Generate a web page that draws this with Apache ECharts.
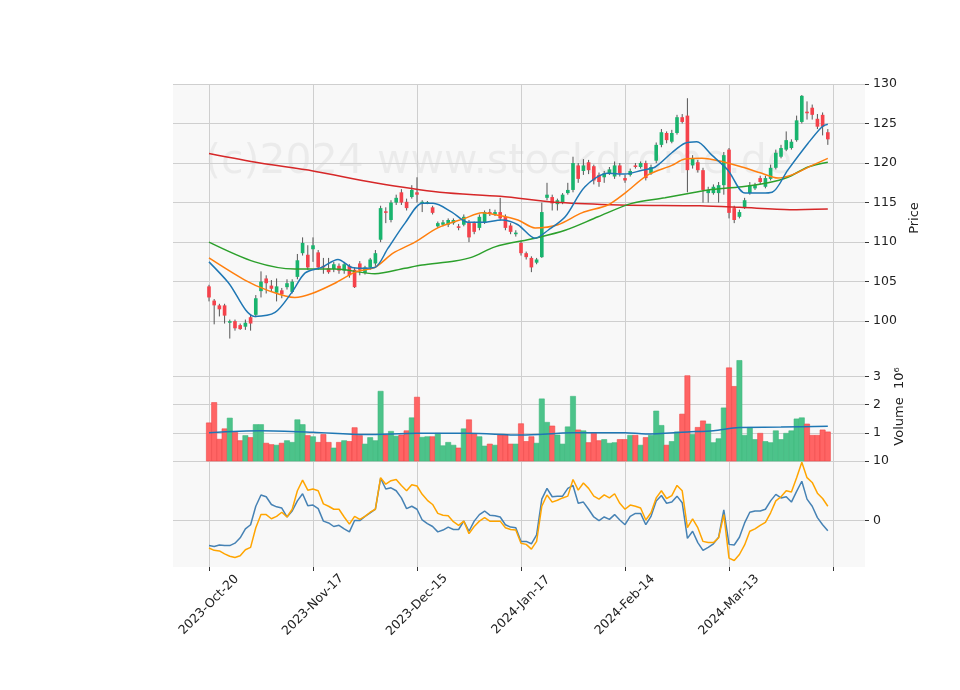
<!DOCTYPE html>
<html><head><meta charset="utf-8">
<script src="https://cdn.jsdelivr.net/npm/echarts@6/dist/echarts.min.js"></script>
<style>html,body{margin:0;padding:0;background:#fff}#c{width:960px;height:690px}</style>
</head><body><div id="c"></div>
<script>
const tickLabels = ['2023-Oct-20','2023-Nov-17','2023-Dec-15','2024-Jan-17','2024-Feb-14','2024-Mar-13',''];
const tickIdx = [0,20,40,60,80,100,120];
// OHLC per trading day: [open, close, high, low]
const ohlc = [
[104.4,103.0,104.6,102.5],[102.6,102.0,102.8,99.6],[102.0,101.5,102.2,100.6],[102.0,100.7,102.2,99.7],[99.8,100.0,100.2,97.8],
[100.0,99.1,100.2,98.8],[99.5,99.0,99.7,98.9],[99.3,99.8,100.2,98.9],[100.5,99.7,100.8,98.8],[100.8,102.9,103.3,100.5],
[103.8,105.0,106.3,103.0],[105.4,104.8,105.8,103.5],[104.5,104.1,105.2,103.7],[103.6,104.4,105.4,102.5],[103.9,103.4,104.2,102.9],
[104.3,104.8,105.3,104.0],[103.7,105.0,105.3,103.5],[105.6,107.7,108.5,105.3],[108.6,109.9,110.6,108.3],[108.4,106.8,109.6,106.5],
[109.1,109.6,110.6,107.5],[108.7,106.8,109.0,106.5],[107.0,106.8,108.0,106.0],[106.7,106.2,108.0,106.0],[106.6,107.2,107.5,106.2],
[107.0,106.4,107.3,106.0],[106.4,107.2,107.5,106.0],[107.0,105.8,107.2,105.5],[106.5,104.3,106.8,104.2],[107.3,106.5,107.6,105.8],
[106.1,106.8,107.0,105.9],[106.8,107.8,108.0,106.5],[107.3,108.6,109.0,107.0],[110.3,114.3,114.6,110.0],[113.9,113.7,114.4,112.4],
[112.8,115.0,115.3,112.5],[115.0,115.6,116.0,114.7],[116.3,115.0,116.7,114.7],[115.1,114.3,115.5,114.0],[115.7,116.6,117.2,115.5],
[116.3,116.0,118.2,115.0],[114.9,115.1,115.3,113.8],[115.0,115.05,115.2,114.8],[114.4,113.7,114.6,113.5],[112.0,112.4,112.6,111.8],
[112.2,112.5,112.8,112.0],[112.2,112.8,113.0,111.9],[112.4,112.8,113.0,112.2],[112.0,111.8,112.3,111.5],[112.2,113.2,113.5,112.0],
[112.5,110.6,112.8,110.0],[112.4,111.3,112.6,111.0],[111.8,113.2,113.5,111.5],[112.5,113.8,114.0,112.3],[113.8,113.6,114.2,113.3],
[113.5,113.8,114.1,113.3],[113.8,113.0,115.6,112.8],[113.2,111.8,113.5,111.5],[112.1,111.3,112.4,111.0],[111.0,111.2,111.5,110.7],
[109.9,108.6,110.2,108.3],[108.6,108.1,108.8,107.8],[108.0,106.8,108.2,106.2],[107.4,107.8,108.0,107.2],[108.1,113.8,115.0,108.0],
[115.6,116.0,117.5,115.3],[115.7,114.9,116.0,114.0],[114.8,115.3,115.5,114.0],[115.0,116.0,116.2,114.8],[116.2,116.6,117.5,116.0],
[116.6,120.0,120.8,116.3],[119.7,118.0,120.0,117.5],[119.0,119.7,120.5,118.5],[120.1,119.1,120.4,118.6],[119.6,117.8,119.8,117.3],
[118.5,117.6,118.8,117.0],[118.2,118.7,119.0,117.5],[118.7,119.2,119.5,118.5],[118.3,119.7,120.2,118.0],[119.7,118.7,120.0,118.3],
[118.1,117.8,118.5,117.5],[118.5,119.0,119.3,118.3],[119.7,119.5,120.0,119.3],[119.5,120.0,120.2,119.3],[120.0,118.1,120.3,117.8],
[118.7,119.5,119.8,118.5],[120.3,122.3,122.6,120.0],[122.3,123.9,124.3,122.0],[123.8,122.9,124.0,122.5],[122.7,123.8,124.2,122.5],
[123.8,125.8,126.1,123.6],[125.8,125.2,126.2,125.0],[126.0,119.1,128.2,116.3],[119.7,120.6,121.0,119.3],[120.1,119.1,120.4,118.8],
[119.1,116.6,119.4,115.0],[116.2,116.6,117.0,115.0],[116.2,117.0,117.3,116.0],[116.2,117.2,117.6,115.0],[117.2,121.0,121.4,116.0],
[121.7,113.7,121.9,113.0],[114.3,112.8,114.6,112.4],[113.2,113.8,114.1,113.0],[114.4,115.3,115.6,114.2],[116.2,117.2,117.6,116.0],
[116.8,117.2,117.5,116.6],[118.1,117.6,118.4,117.3],[117.0,118.1,118.4,116.8],[118.0,119.4,119.8,117.8],[119.4,121.3,121.7,119.2],
[120.8,121.9,122.3,120.6],[121.7,122.9,124.0,121.5],[121.9,122.7,123.0,121.7],[122.9,125.4,126.0,122.7],[125.2,128.5,128.6,125.0],
[126.5,126.3,127.8,125.5],[127.0,126.1,127.4,125.5],[125.6,124.6,126.2,124.3],[126.1,124.6,126.4,123.5],[123.9,123.0,124.3,122.3]
];
const volume = [1.35,2.07,0.77,1.14,1.52,1.01,0.72,0.9,0.83,1.29,1.29,0.63,0.58,0.56,0.63,0.72,0.66,1.46,1.29,0.9,
0.86,0.66,0.94,0.66,0.46,0.66,0.72,0.69,1.18,0.9,0.6,0.83,0.72,2.47,0.92,1.05,0.88,0.92,1.07,1.53,
2.26,0.84,0.86,0.86,0.98,0.54,0.66,0.56,0.46,1.14,1.46,0.95,0.86,0.53,0.6,0.56,0.92,0.92,0.6,0.6,
1.32,0.69,0.86,0.63,2.2,1.37,1.24,0.92,0.6,1.21,2.29,1.1,1.07,0.65,1.0,0.72,0.76,0.63,0.65,0.76,
0.76,0.91,0.91,0.56,0.83,0.91,1.77,1.26,0.56,0.69,1.03,1.66,3.02,0.94,1.19,1.42,1.31,0.65,0.79,1.88,
3.3,2.64,3.56,0.91,1.19,0.76,0.98,0.69,0.65,1.07,0.76,0.98,1.07,1.49,1.53,1.31,0.91,0.91,1.1,1.03];
const volMA = [[0,1.0],[10,1.07],[20,1.02],[30,0.94],[40,0.98],[50,0.98],[60,0.92],[70,1.0],[80,1.0],[84,0.96],[92,1.03],[97,1.07],[102,1.19],[110,1.2],[119,1.23]];
const maBlue = [[0,107.5],[3.7,104.9],[8.8,100.6],[12.7,101.1],[16,103.7],[18.5,106.1],[21.7,106.8],[24.8,107.8],[27.5,106.8],[29.4,106.7],[31.9,106.8],[34.4,109.2],[37.7,112.4],[41,114.9],[43.1,114.9],[46.7,113.8],[49.8,112.5],[52.5,112.5],[56.3,112.8],[59.4,112.2],[62.7,110.5],[65.2,111.5],[68.5,113.2],[72.3,117],[76.7,118.7],[80,118.6],[83.3,119.1],[85.8,119.5],[89,121.3],[91.5,122.5],[93.8,122.7],[96.7,121],[99.8,119.1],[103.1,116.2],[106.3,116.2],[108.3,116.3],[111.3,119.1],[115.2,122.5],[117.9,124.6],[119,124.9]];
const maOrange = [[0,108],[6.9,105.2],[11.3,103.9],[16.5,103],[19.8,103.5],[24.2,104.8],[28.1,106.2],[31.9,106.8],[35.4,108.6],[39.6,110],[44,111.8],[49.2,113],[52.5,113.7],[55.6,113.4],[59.4,112.8],[62.7,111.8],[67.1,112.2],[71.7,113.7],[76.7,114.7],[80,116.2],[84.4,118.5],[89,119.7],[91.5,120.5],[94.8,120.6],[99.2,120.1],[102.5,119.5],[106.3,118.7],[109.4,118.1],[112.1,118.5],[116,119.7],[119,120.6]];
const maGreen = [[0,110],[8.8,107.5],[16.5,106.6],[24.2,106.6],[31.9,106],[37.7,106.7],[41,107.1],[47.3,107.6],[50.6,108.1],[55,109.4],[62.7,110.5],[68.5,111.5],[74.8,113.2],[81.3,114.9],[87.7,115.6],[93.5,116.3],[96,116.6],[102.5,117],[107.5,117.5],[111.3,118.2],[115.2,119.5],[119,120.1]];
const maRed = [[0,121.2],[9.8,120],[20,119],[31.9,117.5],[44.4,116.3],[56,115.8],[67.5,115],[79,114.7],[94.4,114.6],[102.1,114.4],[111.7,114.1],[119,114.2]];
const oscBlue = [-4.2,-4.35,-4.1,-4.2,-4.2,-3.8,-2.9,-1.4,-0.7,2.4,4.3,4.0,2.7,2.3,2.1,0.6,1.6,3.3,4.5,2.5,
2.6,2.0,-0.1,-0.4,-1.0,-0.8,-1.4,-1.9,0,0,0.7,1.3,1.9,7.1,5.3,5.5,5.0,3.8,2.0,2.4,
1.9,0.1,-0.5,-1.0,-1.9,-1.6,-1.1,-1.5,-1.5,-0.1,-1.8,-0.1,1.0,1.6,0.9,0.8,0.6,-0.7,-1.1,-1.2,
-3.5,-3.5,-3.9,-2.4,3.6,5.4,4.0,4.1,4.1,5.4,5.9,2.9,3.1,1.9,0.6,0,0.6,0.2,1.0,0.1,
-0.7,0.7,1.2,1.2,-0.7,0.7,3.3,4.2,2.9,3.1,4.1,3.0,-3.0,-1.8,-3.7,-5.0,-4.5,-3.9,-2.8,1.8,
-4.0,-4.1,-2.8,-0.4,1.4,1.6,1.6,1.9,3.3,4.4,3.8,4.0,3.1,4.9,6.6,3.6,2.4,0.5,-0.7,-1.7];
const oscOrange = [-4.6,-5.0,-5.1,-5.6,-6.0,-6.2,-5.9,-4.9,-4.5,-1.2,1.0,1.0,0.3,0.7,1.4,0.6,1.9,5.0,6.8,5.1,
5.3,5.0,2.8,2.4,1.9,1.9,0.6,-0.6,0.7,0.2,0.7,1.4,1.9,7.2,6.1,6.7,6.9,5.9,5.0,6.0,
5.8,4.4,3.4,2.7,1.2,0.9,0.8,-0.2,-0.8,-0.1,-2.2,-1.0,-0.1,0.5,-0.1,-0.1,-0.1,-1.2,-1.5,-1.6,
-3.8,-4.0,-4.8,-3.5,2.4,4.3,3.1,3.4,3.8,4.1,6.9,5.1,6.3,5.4,4.1,3.6,4.3,3.8,4.5,2.9,
1.9,2.6,2.4,2.1,0.1,1.3,3.8,5.0,3.7,4.2,5.9,5.0,-1.2,0.3,-1.2,-3.5,-3.7,-3.7,-2.9,1.0,
-6.3,-6.7,-5.7,-4.1,-1.8,-1.4,-0.8,-0.3,1.3,3.3,4.0,5.0,4.8,7.2,9.8,7.2,6.4,4.6,3.7,2.4];

const UP='#19b46e', DN='#f5424b', VUP='#4cc38a', VDN='#ff6464';
const candleData = ohlc.map((d,i)=>[i,d[0],d[1],d[3],d[2]]);
const volData = volume.map((v,i)=>[i,v,ohlc[i][1]>=ohlc[i][0]?1:0]);
const FONT='DejaVu Sans';
const xmin=-6.92, xmax=126.15;
function xAxis(gi,showLabels){
  return {type:'value',gridIndex:gi,min:xmin,max:xmax,
    axisLine:{show:false,onZero:false},
    axisTick:{show:showLabels,customValues:tickIdx,length:4,lineStyle:{color:'#333'}},
    axisLabel:{show:showLabels,customValues:tickIdx,rotate:45,align:'center',verticalAlign:'middle',margin:38,
      fontFamily:FONT,fontSize:12.5,color:'#222',
      formatter:v=>tickLabels[tickIdx.indexOf(Math.round(v))]||''},
    splitLine:{show:true,lineStyle:{color:'#cfcfcf',width:1}}};
}
function yAxis(gi,min,max,vals,name,extra){
  return Object.assign({type:'value',gridIndex:gi,position:'right',min:min,max:max,
    axisLine:{show:false,onZero:false},
    axisTick:{show:true,customValues:vals,length:4,lineStyle:{color:'#333'}},
    axisLabel:{customValues:vals,fontFamily:FONT,fontSize:12.5,color:'#222'},
    splitLine:{show:true,lineStyle:{color:'#cfcfcf'}},
    name:name,nameLocation:'middle',nameRotate:90,nameGap:32,
    nameTextStyle:{fontFamily:FONT,fontSize:13,color:'#222'}},extra||{});
}
const chart = echarts.init(document.getElementById('c'),null,{renderer:'canvas'});
chart.setOption({
  animation:false,
  backgroundColor:'#fff',
  grid:[
    {left:173,right:95,top:84,height:268,backgroundColor:'#f8f8f8',show:true,borderWidth:0},
    {left:173,right:95,top:352,height:109,backgroundColor:'#f8f8f8',show:true,borderWidth:0},
    {left:173,right:95,top:461,height:106,backgroundColor:'#f8f8f8',show:true,borderWidth:0}
  ],
  graphic:[{type:'text',left:205,top:142,z:0,silent:true,
    style:{text:'(c)2024 www.stockdrome.de',fontFamily:FONT,fontSize:41,fill:'rgba(0,0,0,0.05)'}}],
  xAxis:[xAxis(0,false),xAxis(1,false),xAxis(2,true)],
  yAxis:[
    yAxis(0,96.1,130,[100,105,110,115,120,125,130],'Price',{nameGap:36}),
    yAxis(1,0,3.86,[1,2,3],'Volume  10\u2076',{nameGap:28}),
    yAxis(2,-7.8,10,[0,10],'',{})
  ],
  series:[
    {type:'custom',xAxisIndex:0,yAxisIndex:0,data:candleData,z:5,
      renderItem:(p,api)=>{
        const x=api.value(0),o=api.value(1),c=api.value(2),l=api.value(3),h=api.value(4);
        const po=api.coord([x,o]),pc=api.coord([x,c]),pl=api.coord([x,l]),ph=api.coord([x,h]);
        const w=api.size([1,0])[0]*0.7;
        const col=c>=o?UP:DN;
        const top=Math.min(po[1],pc[1]),hh=Math.max(Math.abs(po[1]-pc[1]),1);
        return {type:'group',children:[
          {type:'line',shape:{x1:pl[0],y1:pl[1],x2:ph[0],y2:ph[1]},style:{stroke:'#555',lineWidth:1}},
          {type:'rect',shape:{x:po[0]-w/2,y:top,width:w,height:hh},style:{fill:col}}
        ]};
      }},
    {type:'line',xAxisIndex:0,yAxisIndex:0,data:maRed,showSymbol:false,smooth:0.3,lineStyle:{color:'#d62728',width:1.5},z:6},
    {type:'line',xAxisIndex:0,yAxisIndex:0,data:maGreen,showSymbol:false,smooth:0.3,lineStyle:{color:'#2ca02c',width:1.5},z:6},
    {type:'line',xAxisIndex:0,yAxisIndex:0,data:maOrange,showSymbol:false,smooth:0.3,lineStyle:{color:'#ff7f0e',width:1.5},z:6},
    {type:'line',xAxisIndex:0,yAxisIndex:0,data:maBlue,showSymbol:false,smooth:0.3,lineStyle:{color:'#1f77b4',width:1.5},z:6},
    {type:'custom',xAxisIndex:1,yAxisIndex:1,data:volData,z:5,
      renderItem:(p,api)=>{
        const x=api.value(0),v=api.value(1),up=api.value(2);
        const p0=api.coord([x,0]),p1=api.coord([x,v]);
        const w=api.size([1,0])[0];
        return {type:'rect',shape:{x:p0[0]-w/2,y:p1[1],width:w,height:p0[1]-p1[1]},
          style:{fill:up?VUP:VDN,stroke:up?'#3fb87e':'#f04848',lineWidth:0.6}};
      }},
    {type:'line',xAxisIndex:1,yAxisIndex:1,data:volMA,showSymbol:false,smooth:0.3,lineStyle:{color:'#1f77b4',width:1.5},z:6},
    {type:'line',xAxisIndex:2,yAxisIndex:2,data:oscBlue.map((v,i)=>[i,v]),showSymbol:false,lineStyle:{color:'#4682b4',width:1.5},z:6},
    {type:'line',xAxisIndex:2,yAxisIndex:2,data:oscOrange.map((v,i)=>[i,v]),showSymbol:false,lineStyle:{color:'#ffa500',width:1.5},z:6}
  ]
});
</script></body></html>
